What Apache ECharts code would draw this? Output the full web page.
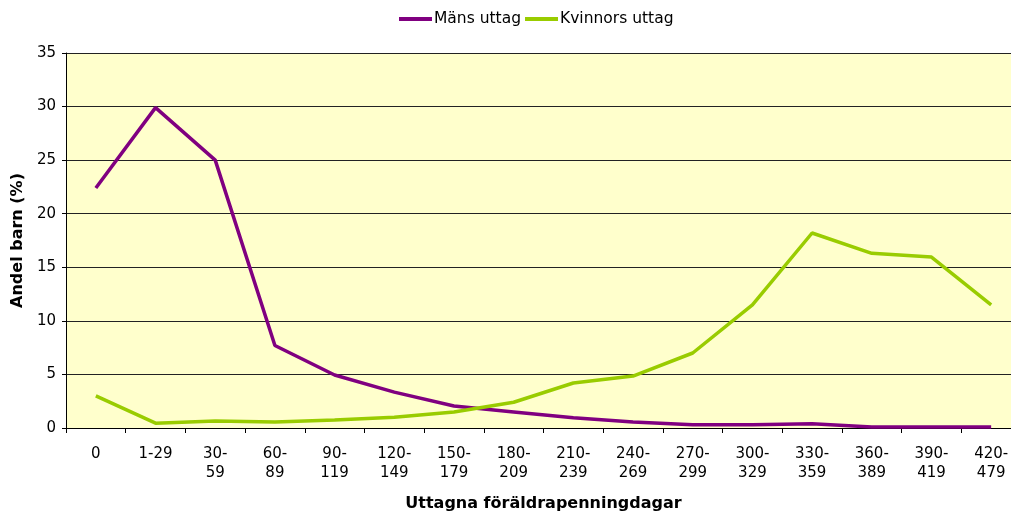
<!DOCTYPE html>
<html>
<head>
<meta charset="utf-8">
<script src="https://cdn.jsdelivr.net/npm/echarts@6/dist/echarts.min.js"></script>
<style>
  html, body { margin: 0; padding: 0; background: #fff; overflow: hidden; }
  #chart { width: 1011px; height: 513px; }
</style>
</head>
<body>
<div id="chart"></div>
<script>
var categories = ['0', '1-29', '30-\n59', '60-\n89', '90-\n119', '120-\n149', '150-\n179', '180-\n209',
    '210-\n239', '240-\n269', '270-\n299', '300-\n329', '330-\n359', '360-\n389', '390-\n419', '420-\n479'];
var mens = [22.4, 29.9, 25.0, 7.7, 4.95, 3.35, 2.05, 1.5, 0.95, 0.55, 0.3, 0.3, 0.4, 0.1, 0.1, 0.1];
var kvinnors = [3.0, 0.45, 0.65, 0.55, 0.75, 1.0, 1.5, 2.4, 4.2, 4.85, 7.0, 11.5, 18.2, 16.3, 15.95, 11.5];

var myChart = echarts.init(document.getElementById('chart'));

var option = {
    animation: false,
    color: ['#800080', '#99CC00'],
    legend: {
        top: 6,
        left: 394,
        itemWidth: 33,
        itemHeight: 4,
        itemGap: 4,
        icon: 'rect',
        textStyle: { fontFamily: 'DejaVu Sans', fontSize: 15.5, color: '#000', padding: [0, 0, 0, -3] },
        data: ['Mäns uttag', 'Kvinnors uttag']
    },
    grid: {
        left: 66,
        width: 955,
        top: 53,
        height: 375,
        outerBoundsMode: 'none',
        containLabel: false,
        show: true,
        backgroundColor: '#FFFFCC',
        borderWidth: 0
    },
    xAxis: {
        type: 'category',
        data: categories,
        boundaryGap: true,
        name: 'Uttagna föräldrapenningdagar',
        nameLocation: 'middle',
        nameGap: 68,
        nameTextStyle: { fontFamily: 'DejaVu Sans', fontWeight: 'bold', fontSize: 16, color: '#000' },
        axisLine: { lineStyle: { color: '#000', width: 1 } },
        axisTick: { show: true, length: 5, lineStyle: { color: '#000' } },
        axisLabel: { fontFamily: 'DejaVu Sans', fontSize: 15, color: '#000', margin: 17, lineHeight: 19, interval: 0 },
        splitLine: { show: false }
    },
    yAxis: {
        type: 'value',
        min: 0,
        max: 35,
        interval: 5,
        name: 'Andel barn (%)',
        nameLocation: 'middle',
        nameGap: 40,
        nameTextStyle: { fontFamily: 'DejaVu Sans', fontWeight: 'bold', fontSize: 16, color: '#000' },
        axisLine: { show: true, lineStyle: { color: '#000', width: 1 } },
        axisTick: { show: true, length: 4, lineStyle: { color: '#000' } },
        axisLabel: { fontFamily: 'DejaVu Sans', fontSize: 15, color: '#000', margin: 10 },
        splitLine: { show: true, lineStyle: { color: '#222', width: 1 } }
    },
    series: [{
        name: 'Mäns uttag',
        type: 'line',
        data: mens,
        symbol: 'none',
        lineStyle: { width: 3.5 }
    }, {
        name: 'Kvinnors uttag',
        type: 'line',
        data: kvinnors,
        symbol: 'none',
        lineStyle: { width: 3.5 }
    }]
};

myChart.setOption(option);
</script>
</body>
</html>
